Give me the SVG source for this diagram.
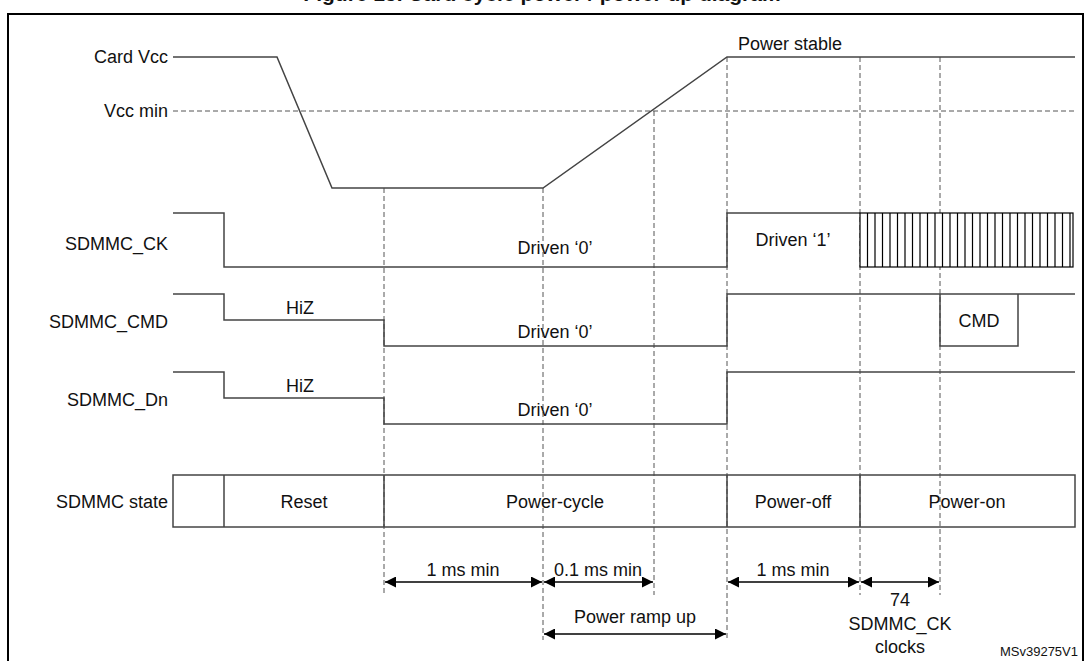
<svg xmlns="http://www.w3.org/2000/svg" width="1085" height="661" viewBox="0 0 1085 661">
<style>
text{font-family:"Liberation Sans",Arial,sans-serif;font-size:18px;fill:#111}
.l{text-anchor:end}.c{text-anchor:middle}
.w{fill:none;stroke:#444;stroke-width:1.5}
.d{fill:none;stroke:#555;stroke-width:1;stroke-dasharray:5,3}
.a{stroke:#000;stroke-width:1.5;marker-start:url(#m);marker-end:url(#m)}
</style>
<defs><marker id="m" viewBox="0 0 10 10" refX="10" refY="5" markerWidth="14" markerHeight="11" markerUnits="userSpaceOnUse" orient="auto-start-reverse"><path d="M0,0L10,5L0,10z" fill="#000"/></marker></defs>
<rect width="1085" height="661" fill="#fff"/>
<text x="542" y="1" class="c" style="font-weight:bold;font-size:21px">Figure 15. Card cycle power / power up diagram</text>
<rect x="8" y="14" width="1075" height="660" fill="none" stroke="#000" stroke-width="2"/>
<g id="labels">
<text x="168" y="63" class="l">Card Vcc</text>
<text x="168" y="117" class="l">Vcc min</text>
<text x="168" y="250" class="l">SDMMC_CK</text>
<text x="168" y="328" class="l">SDMMC_CMD</text>
<text x="168" y="406" class="l">SDMMC_Dn</text>
<text x="168" y="508" class="l">SDMMC state</text>
</g>
<g id="guides">
<line class="d" x1="173" y1="111" x2="1075" y2="111"/>
<line class="d" x1="384" y1="188" x2="384" y2="595"/>
<line class="d" x1="543" y1="188" x2="543" y2="640"/>
<line class="d" x1="654" y1="111" x2="654" y2="595"/>
<line class="d" x1="727" y1="57" x2="727" y2="640"/>
<line class="d" x1="860" y1="57" x2="860" y2="595"/>
<line class="d" x1="940" y1="57" x2="940" y2="595"/>
</g>
<g id="vcc">
<polyline class="w" points="173,57 277,57 332,188 543,188 727,57 1075,57"/>
<text x="790" y="50" class="c">Power stable</text>
</g>
<g id="ck">
<polyline class="w" points="173,213 224,213 224,267 727,267 727,213 860,213"/>
<rect x="860" y="213" width="213" height="54" fill="#fff" stroke="#000" stroke-width="1.2"/>
<path d="M867.5,213v54M875,213v54M882.5,213v54M890,213v54M897.5,213v54M905,213v54M912.5,213v54M920,213v54M927.5,213v54M935,213v54M942.5,213v54M950,213v54M957.5,213v54M965,213v54M972.5,213v54M980,213v54M987.5,213v54M995,213v54M1002.5,213v54M1010,213v54M1017.5,213v54M1025,213v54M1032.5,213v54M1040,213v54M1047.5,213v54M1055,213v54M1062.5,213v54M1070,213v54" stroke="#000" stroke-width="1.2"/>
<text x="555" y="254" class="c">Driven ‘0’</text>
<text x="793" y="246" class="c">Driven ‘1’</text>
</g>
<g id="cmd">
<polyline class="w" points="173,294 224,294 224,320 384,320 384,346 727,346 727,294 1075,294"/>
<polyline class="w" points="940,294 940,346 1018,346 1018,294"/>
<text x="300" y="314" class="c">HiZ</text>
<text x="555" y="338" class="c">Driven ‘0’</text>
<text x="979" y="327" class="c">CMD</text>
</g>
<g id="dn">
<polyline class="w" points="173,372 224,372 224,398 384,398 384,424 727,424 727,372 1075,372"/>
<text x="300" y="392" class="c">HiZ</text>
<text x="555" y="416" class="c">Driven ‘0’</text>
</g>
<g id="state">
<rect class="w" x="173" y="475" width="902" height="52"/>
<path class="w" d="M224,475v52M384,475v52M727,475v52M860,475v52"/>
<text x="304" y="508" class="c">Reset</text>
<text x="555" y="508" class="c">Power-cycle</text>
<text x="793" y="508" class="c">Power-off</text>
<text x="967" y="508" class="c">Power-on</text>
</g>
<g id="connectors">
<line class="a" x1="385" y1="582" x2="542" y2="582"/>
<line class="a" x1="544" y1="582" x2="653" y2="582"/>
<line class="a" x1="728" y1="582" x2="859" y2="582"/>
<line class="a" x1="861" y1="582" x2="939" y2="582"/>
<line class="a" x1="544" y1="634" x2="726" y2="634"/>
</g>
<g id="timing">
<text x="463" y="576" class="c">1 ms min</text>
<text x="598" y="576" class="c">0.1 ms min</text>
<text x="793" y="576" class="c">1 ms min</text>
<text x="900" y="606" class="c">74</text>
<text x="900" y="630" class="c">SDMMC_CK</text>
<text x="900" y="653" class="c">clocks</text>
<text x="635" y="623" class="c">Power ramp up</text>
<text x="1078" y="656" style="font-size:13px;text-anchor:end">MSv39275V1</text>
</g>
</svg>
